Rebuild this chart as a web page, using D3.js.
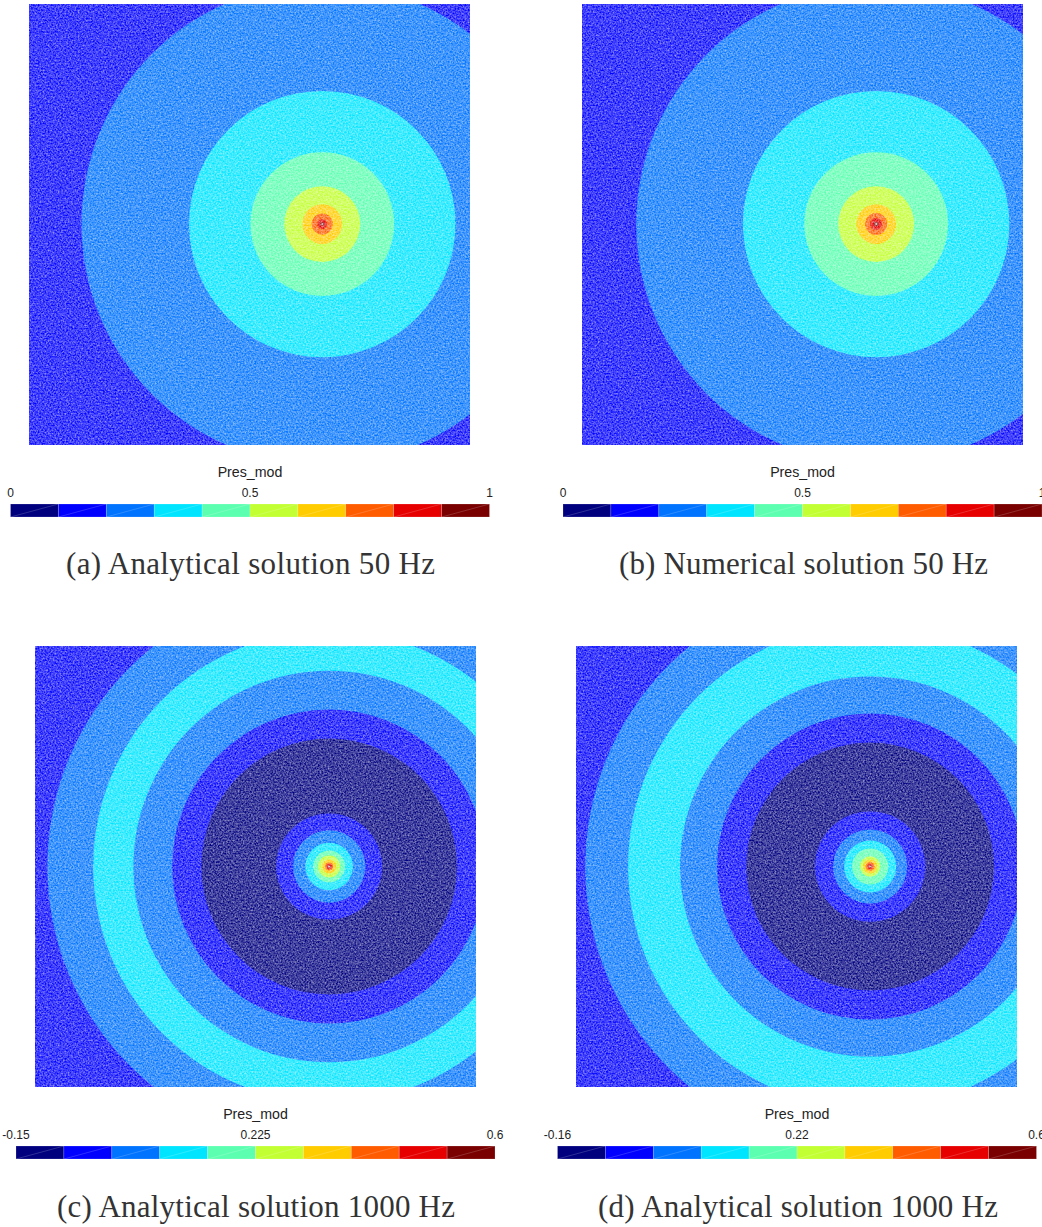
<!DOCTYPE html>
<html>
<head>
<meta charset="utf-8">
<title>Pres_mod</title>
<script src="https://cdn.jsdelivr.net/npm/d3@7"></script>
<style>
    html, body { margin: 0; padding: 0; background: #fff; }
    svg { display: block; }
    .bar-text { font-family: "Liberation Sans", Arial, sans-serif; fill: #222; }
    .caption { font-family: "Liberation Serif", serif; fill: #333; font-size: 31px; }
</style>
</head>
<body>
<div id="chart"></div>
<script>
'use strict';

//colormap shared by the contour plots and the colorbars
const levelColors = ['#00007f', '#0000ff', '#0073ff', '#00e5ff', '#5cffb0',
    '#c2ff33', '#ffcc00', '#ff5c00', '#e60000', '#7a0000'];

//contour rings, outermost first: radius is a fraction of the plot width
const ringLevelsA = [2, 3, 4, 5, 6, 7, 8, 9];
const ringRadiiA = [0.546, 0.302, 0.163, 0.086, 0.045, 0.024, 0.011, 0.0045];
const ringLevelsB = [2, 3, 4, 5, 6, 7, 8, 9];
const ringRadiiB = [0.544, 0.302, 0.163, 0.086, 0.045, 0.025, 0.0136, 0.005];
const ringLevelsC = [2, 3, 2, 1, 0, 1, 2, 3, 4, 5, 6, 7, 8, 9];
const ringRadiiC = [0.639, 0.535, 0.444, 0.356, 0.29, 0.12, 0.082, 0.054, 0.036, 0.025, 0.016, 0.009, 0.006, 0.003];
const ringLevelsD = [2, 3, 2, 1, 0, 1, 2, 3, 4, 5, 6, 7, 8, 9];
const ringRadiiD = [0.646, 0.549, 0.431, 0.347, 0.281, 0.125, 0.084, 0.059, 0.041, 0.023, 0.016, 0.01, 0.006, 0.003];

//source position inside the plot (fractions of width and height)
const centersX = [0.665, 0.667, 0.667, 0.667];
const centersY = [0.499, 0.499, 0.5, 0.5];

//colorbar tick labels
const tickLabelsA = ['0', '0.5', '1'];
const tickLabelsB = ['0', '0.5', '1'];
const tickLabelsC = ['-0.15', '0.225', '0.6'];
const tickLabelsD = ['-0.16', '0.22', '0.6'];

const captions = ['(a) Analytical solution 50 Hz', '(b) Numerical solution 50 Hz',
    '(c) Analytical solution 1000 Hz', '(d) Analytical solution 1000 Hz'];

const barTitle = 'Pres_mod';

//page layout for the four panels
const LAYOUT = [
    { plotX: 29, plotY: 4, barX: 10.5, barY: 504, titleY: 477, tickY: 496.5, capX: 250.5, capY: 574, capW: 369 },
    { plotX: 582, plotY: 4, barX: 563, barY: 504, titleY: 477, tickY: 496.5, capX: 803.5, capY: 574, capW: 369 },
    { plotX: 35, plotY: 646, barX: 16, barY: 1146, titleY: 1119, tickY: 1138.5, capX: 256, capY: 1217, capW: 398 },
    { plotX: 576, plotY: 646, barX: 557.5, barY: 1146, titleY: 1119, tickY: 1138.5, capX: 798, capY: 1217, capW: 400 },
];
const PLOT_SIZE = 441;
const BAR_W = 479;
const BAR_H = 13;

const svg = d3.select('#chart').append('svg')
    .attr('width', 1042)
    .attr('height', 1227);

const defs = svg.append('defs');

//fine white speckle standing in for the mesh lines
const mesh = defs.append('filter').attr('id', 'mesh')
    .attr('x', 0).attr('y', 0).attr('width', 1).attr('height', 1)
    .attr('color-interpolation-filters', 'sRGB');
mesh.append('feTurbulence')
    .attr('type', 'fractalNoise')
    .attr('baseFrequency', 0.6)
    .attr('numOctaves', 2)
    .attr('seed', 7);
mesh.append('feColorMatrix')
    .attr('type', 'matrix')
    .attr('values', '0 0 0 0 1  0 0 0 0 1  0 0 0 0 1  0.9 0 0 0 -0.2');
mesh.append('feGaussianBlur').attr('stdDeviation', 0.45);

function drawPlot(i, levels, radii) {
    const p = LAYOUT[i];
    const x = d3.scaleLinear().domain([0, 1]).range([p.plotX, p.plotX + PLOT_SIZE]);
    const y = d3.scaleLinear().domain([0, 1]).range([p.plotY, p.plotY + PLOT_SIZE]);
    const r = d3.scaleLinear().domain([0, 1]).range([0, PLOT_SIZE]);

    defs.append('clipPath').attr('id', `clip-${i}`)
        .append('rect')
        .attr('x', x(0)).attr('y', y(0))
        .attr('width', r(1)).attr('height', r(1));

    const g = svg.append('g')
        .attr('clip-path', `url(#clip-${i})`);

    g.append('rect')
        .attr('x', x(0)).attr('y', y(0))
        .attr('width', r(1)).attr('height', r(1))
        .attr('fill', levelColors[1]);

    g.selectAll('circle')
        .data(radii)
        .enter()
        .append('circle')
        .attr('cx', x(centersX[i]))
        .attr('cy', y(centersY[i]))
        .attr('r', d => r(d))
        .attr('fill', (d, k) => levelColors[levels[k]]);

    g.append('rect')
        .attr('x', x(0)).attr('y', y(0))
        .attr('width', r(1)).attr('height', r(1))
        .attr('fill', '#fff')
        .attr('filter', 'url(#mesh)');

    //small white mark at the source
    g.append('circle')
        .attr('cx', x(centersX[i]))
        .attr('cy', y(centersY[i]))
        .attr('r', 1)
        .attr('fill', '#fff')
        .attr('opacity', 0.7);
}

function drawColorbar(i, labels) {
    const p = LAYOUT[i];
    const band = d3.scaleBand()
        .domain(d3.range(levelColors.length))
        .range([p.barX, p.barX + BAR_W]);
    const tickPos = d3.scalePoint()
        .domain(labels)
        .range([p.barX, p.barX + BAR_W]);

    const g = svg.append('g');

    g.selectAll('rect')
        .data(levelColors)
        .enter()
        .append('rect')
        .attr('x', (d, k) => band(k))
        .attr('y', p.barY)
        .attr('width', band.bandwidth())
        .attr('height', BAR_H)
        .attr('fill', d => d)
        .attr('stroke', '#fff')
        .attr('stroke-opacity', 0.25)
        .attr('stroke-width', 0.7);

    //each colorbar cell is two triangles, the seam shows faintly
    g.selectAll('line')
        .data(levelColors)
        .enter()
        .append('line')
        .attr('x1', (d, k) => band(k))
        .attr('y1', p.barY + BAR_H)
        .attr('x2', (d, k) => band(k) + band.bandwidth())
        .attr('y2', p.barY)
        .attr('stroke', '#fff')
        .attr('stroke-opacity', 0.3)
        .attr('stroke-width', 0.6);

    svg.append('text')
        .attr('class', 'bar-text')
        .attr('x', p.barX + BAR_W / 2)
        .attr('y', p.titleY)
        .attr('text-anchor', 'middle')
        .attr('font-size', 14.2)
        .text(barTitle);

    svg.selectAll(`.tick-${i}`)
        .data(labels)
        .enter()
        .append('text')
        .attr('class', `bar-text tick-${i}`)
        .attr('x', d => tickPos(d))
        .attr('y', p.tickY)
        .attr('text-anchor', 'middle')
        .attr('font-size', 12)
        .text(d => d);
}

function drawCaption(i) {
    const p = LAYOUT[i];
    svg.append('text')
        .attr('class', 'caption')
        .attr('x', p.capX)
        .attr('y', p.capY)
        .attr('text-anchor', 'middle')
        .attr('textLength', p.capW)
        .attr('lengthAdjust', 'spacing')
        .text(captions[i]);
}

drawPlot(0, ringLevelsA, ringRadiiA);
drawPlot(1, ringLevelsB, ringRadiiB);
drawPlot(2, ringLevelsC, ringRadiiC);
drawPlot(3, ringLevelsD, ringRadiiD);

drawColorbar(0, tickLabelsA);
drawColorbar(1, tickLabelsB);
drawColorbar(2, tickLabelsC);
drawColorbar(3, tickLabelsD);

d3.range(4).forEach(drawCaption);
</script>
</body>
</html>
